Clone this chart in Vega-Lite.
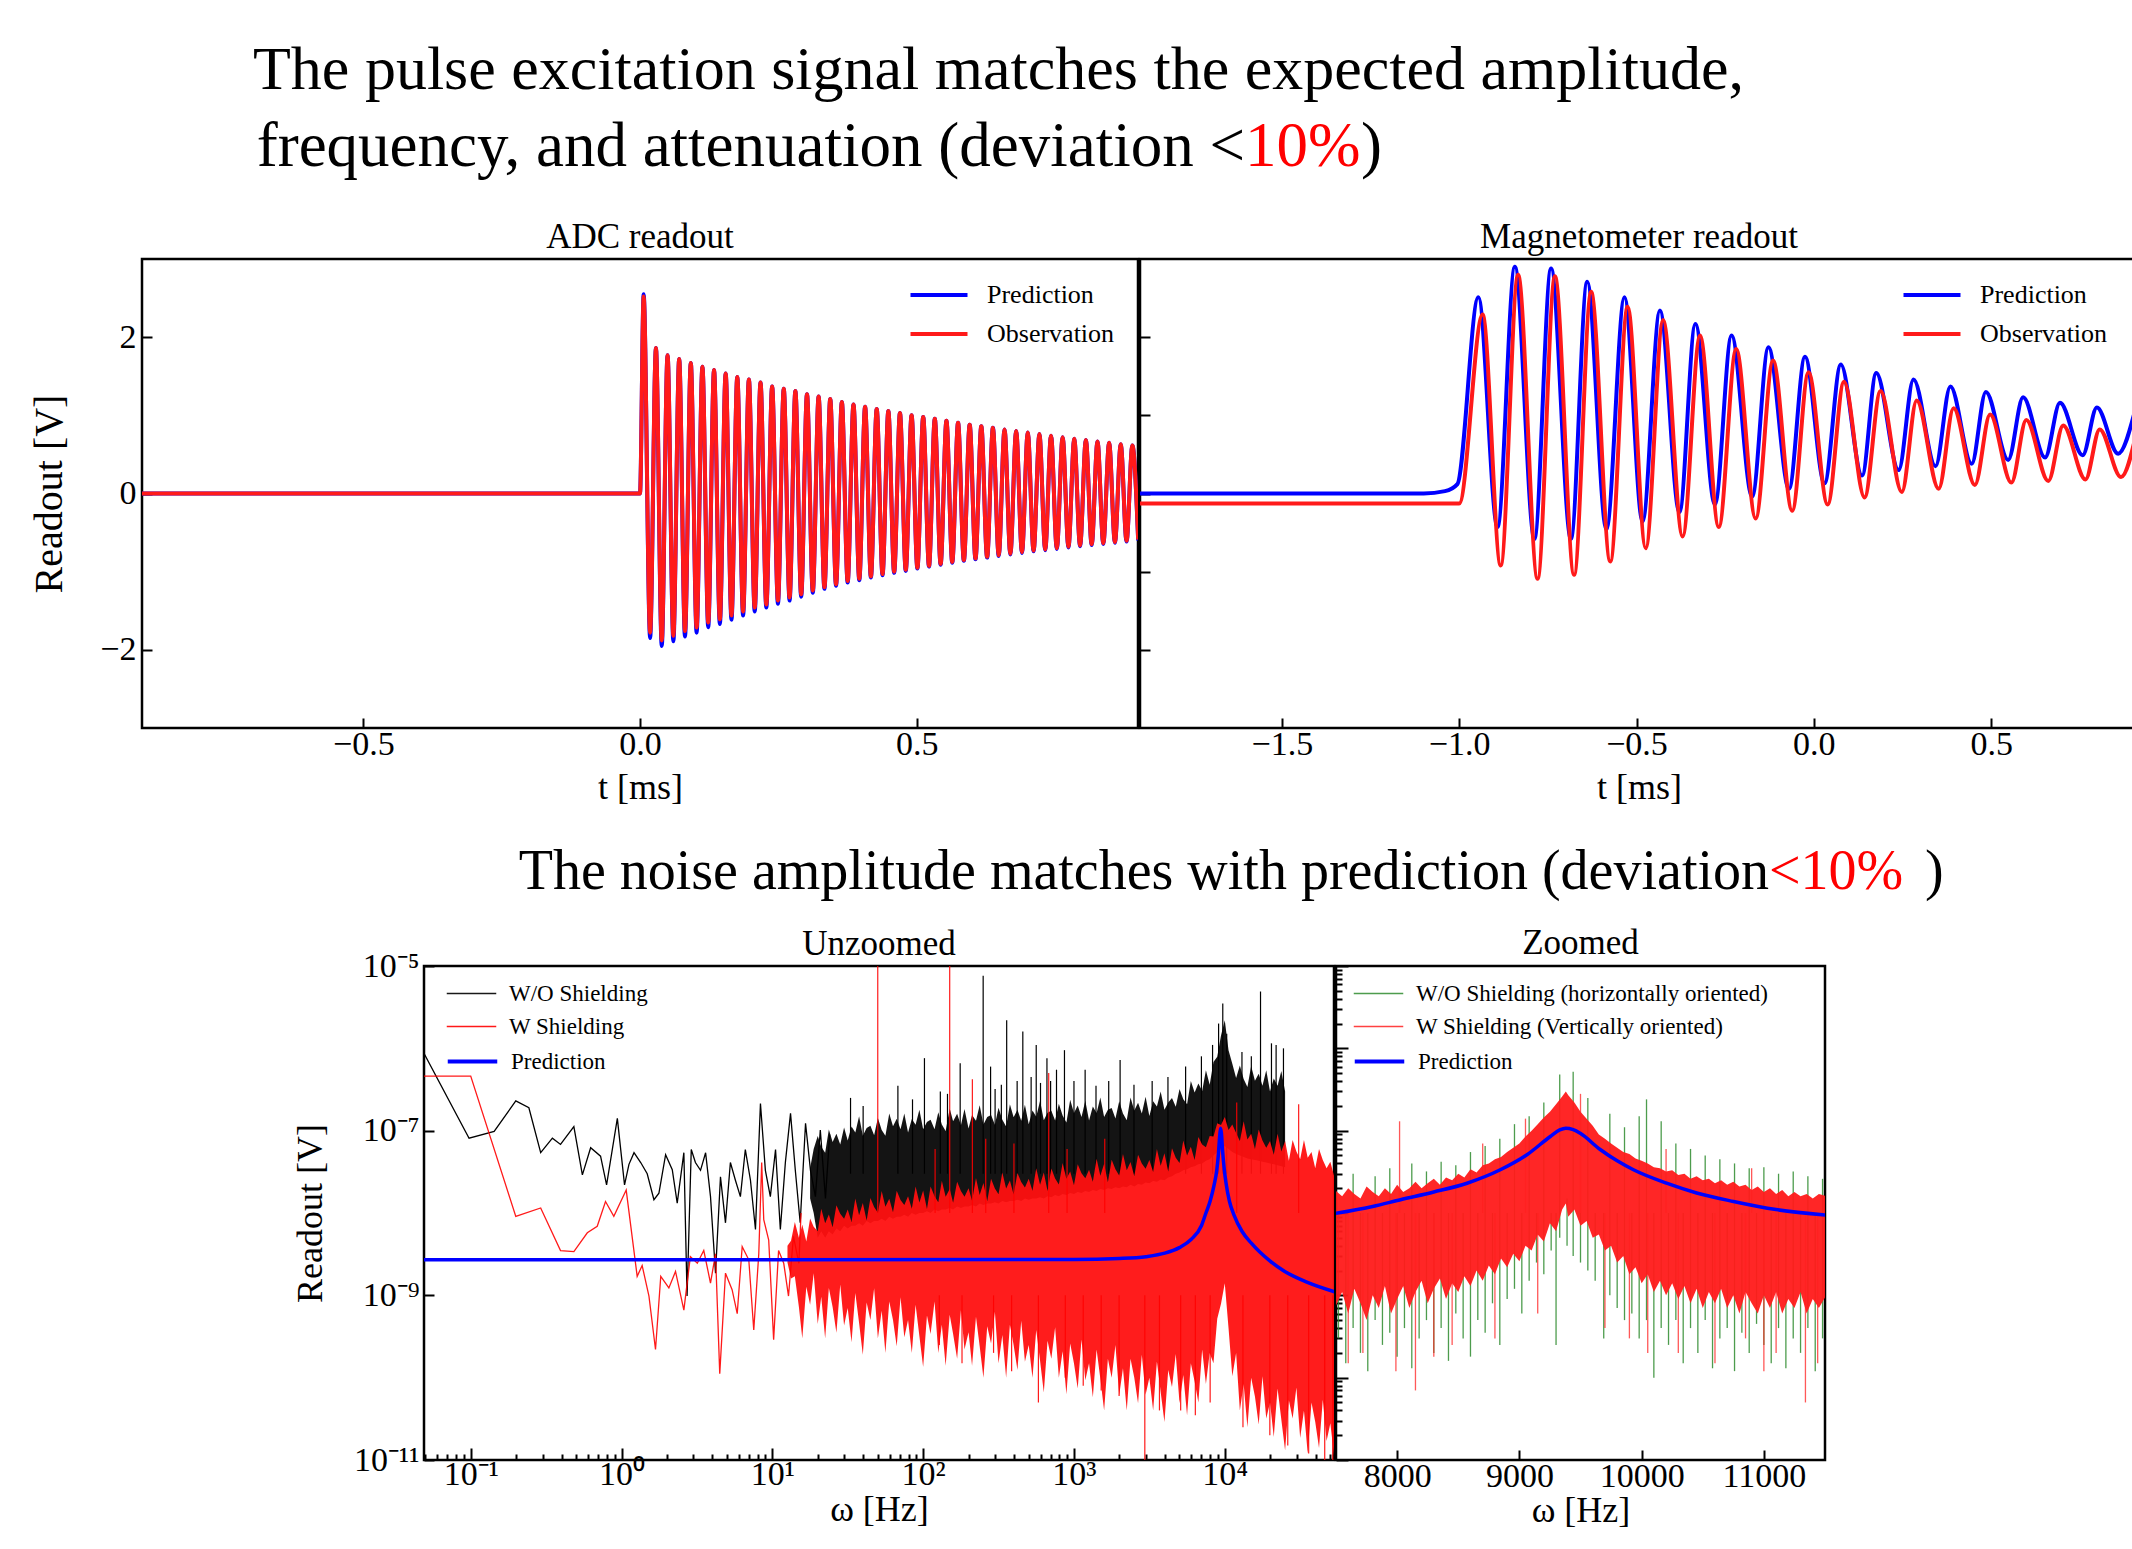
{
"$schema":"https://vega.github.io/schema/vega-lite/v6.json",
"background":"white",
"padding":{"left":28,"top":0,"right":0,"bottom":0},
"spacing":0,
"config":{
 "font":"Liberation Serif",
 "view":{"stroke":"black","strokeWidth":2.5},
 "axis":{"domain":false,"grid":false,"tickColor":"black","tickWidth":2,"tickSize":-10,"labelFont":"Liberation Serif","labelFontSize":34,"labelColor":"black","titleFont":"Liberation Serif","titleFontSize":36,"titleFontWeight":"normal","titleColor":"black","labelFlush":false,"labelOverlap":false},
 "title":{"font":"Liberation Serif","fontSize":35,"fontWeight":"normal","color":"black","offset":0},
 "legend":{"labelFont":"Liberation Serif","labelColor":"black","padding":0,"symbolType":"M-1.5,0L1.5,0","orient":"none","labelLimit":600}
},
"datasets":{
 "adc":[
  {"t":-0.9,"p":0,"o":0},{"t":0,"p":0,"o":0},{"t":0.0066,"p":2.55,"o":2.52},
  {"t":0.0183,"p":-1.85,"o":-1.78},{"t":0.0288,"p":1.86,"o":1.86},{"t":0.0393,"p":-1.95,"o":-1.88},{"t":0.0498,"p":1.77,"o":1.77},
  {"t":0.0603,"p":-1.89,"o":-1.82},{"t":0.0708,"p":1.72,"o":1.72},{"t":0.0813,"p":-1.83,"o":-1.76},{"t":0.0918,"p":1.67,"o":1.67},
  {"t":0.1023,"p":-1.78,"o":-1.715},{"t":0.1128,"p":1.62,"o":1.62},{"t":0.1233,"p":-1.71,"o":-1.65},{"t":0.1338,"p":1.58,"o":1.58},
  {"t":0.1443,"p":-1.67,"o":-1.61},{"t":0.1548,"p":1.535,"o":1.535},{"t":0.1653,"p":-1.615,"o":-1.56},{"t":0.1758,"p":1.49,"o":1.49},
  {"t":0.1863,"p":-1.56,"o":-1.51},{"t":0.1968,"p":1.46,"o":1.46},{"t":0.2073,"p":-1.51,"o":-1.46},{"t":0.2178,"p":1.42,"o":1.42},
  {"t":0.2283,"p":-1.46,"o":-1.42},{"t":0.2388,"p":1.37,"o":1.37},{"t":0.2493,"p":-1.41,"o":-1.37},{"t":0.2598,"p":1.34,"o":1.34},
  {"t":0.2703,"p":-1.37,"o":-1.33},{"t":0.2808,"p":1.31,"o":1.31},{"t":0.2913,"p":-1.32,"o":-1.29},{"t":0.3018,"p":1.27,"o":1.27},
  {"t":0.3123,"p":-1.27,"o":-1.24},{"t":0.3228,"p":1.24,"o":1.24},{"t":0.3333,"p":-1.22,"o":-1.2},{"t":0.3438,"p":1.21,"o":1.21},
  {"t":0.3543,"p":-1.18,"o":-1.16},{"t":0.3648,"p":1.17,"o":1.17},{"t":0.3753,"p":-1.14,"o":-1.12},{"t":0.3858,"p":1.14,"o":1.14},
  {"t":0.3963,"p":-1.11,"o":-1.09},{"t":0.4068,"p":1.11,"o":1.11},{"t":0.4173,"p":-1.075,"o":-1.06},{"t":0.4278,"p":1.08,"o":1.08},
  {"t":0.4383,"p":-1.045,"o":-1.03},{"t":0.4488,"p":1.055,"o":1.055},{"t":0.4593,"p":-1.015,"o":-1.0},{"t":0.4698,"p":1.03,"o":1.03},
  {"t":0.4803,"p":-0.99,"o":-0.975},{"t":0.4908,"p":1.0,"o":1.0},{"t":0.5013,"p":-0.96,"o":-0.95},{"t":0.5118,"p":0.98,"o":0.98},
  {"t":0.5223,"p":-0.935,"o":-0.925},{"t":0.5328,"p":0.955,"o":0.955},{"t":0.5433,"p":-0.91,"o":-0.9},{"t":0.5538,"p":0.93,"o":0.93},
  {"t":0.5643,"p":-0.885,"o":-0.875},{"t":0.5748,"p":0.905,"o":0.905},{"t":0.5853,"p":-0.86,"o":-0.85},{"t":0.5958,"p":0.88,"o":0.88},
  {"t":0.6063,"p":-0.84,"o":-0.83},{"t":0.6168,"p":0.86,"o":0.86},{"t":0.6273,"p":-0.82,"o":-0.81},{"t":0.6378,"p":0.84,"o":0.84},
  {"t":0.6483,"p":-0.8,"o":-0.79},{"t":0.6588,"p":0.82,"o":0.82},{"t":0.6693,"p":-0.78,"o":-0.77},{"t":0.6798,"p":0.8,"o":0.8},
  {"t":0.6903,"p":-0.76,"o":-0.75},{"t":0.7008,"p":0.78,"o":0.78},{"t":0.7113,"p":-0.74,"o":-0.73},{"t":0.7218,"p":0.76,"o":0.76},
  {"t":0.7323,"p":-0.725,"o":-0.715},{"t":0.7428,"p":0.74,"o":0.74},{"t":0.7533,"p":-0.71,"o":-0.7},{"t":0.7638,"p":0.72,"o":0.72},
  {"t":0.7743,"p":-0.69,"o":-0.68},{"t":0.7848,"p":0.7,"o":0.7},{"t":0.7953,"p":-0.675,"o":-0.665},{"t":0.8058,"p":0.685,"o":0.685},
  {"t":0.8163,"p":-0.66,"o":-0.65},{"t":0.8268,"p":0.665,"o":0.665},{"t":0.8373,"p":-0.645,"o":-0.635},{"t":0.8478,"p":0.65,"o":0.65},
  {"t":0.8583,"p":-0.63,"o":-0.62},{"t":0.8688,"p":0.63,"o":0.63},{"t":0.8793,"p":-0.615,"o":-0.605},{"t":0.8898,"p":0.615,"o":0.615},
  {"t":0.9003,"p":-0.6,"o":-0.59}
 ],
 "mag":[
  {"s":"P","t":-1.95,"v":0},{"s":"P","t":-1.1,"v":0},{"s":"P","t":-1.04,"v":0.03},{"s":"P","t":-1.005,"v":0.12},
  {"s":"P","t":-0.946,"v":2.51},{"s":"P","t":-0.892,"v":-0.43},{"s":"P","t":-0.843,"v":2.9},{"s":"P","t":-0.788,"v":-0.58},
  {"s":"P","t":-0.741,"v":2.88},{"s":"P","t":-0.685,"v":-0.58},{"s":"P","t":-0.639,"v":2.71},{"s":"P","t":-0.585,"v":-0.46},
  {"s":"P","t":-0.534,"v":2.51},{"s":"P","t":-0.483,"v":-0.36},{"s":"P","t":-0.434,"v":2.34},{"s":"P","t":-0.379,"v":-0.24},
  {"s":"P","t":-0.334,"v":2.17},{"s":"P","t":-0.279,"v":-0.14},{"s":"P","t":-0.232,"v":2.02},{"s":"P","t":-0.174,"v":-0.04},
  {"s":"P","t":-0.128,"v":1.87},{"s":"P","t":-0.07,"v":0.06},{"s":"P","t":-0.025,"v":1.75},{"s":"P","t":0.03,"v":0.13},
  {"s":"P","t":0.076,"v":1.65},{"s":"P","t":0.136,"v":0.23},{"s":"P","t":0.176,"v":1.54},{"s":"P","t":0.239,"v":0.3},
  {"s":"P","t":0.281,"v":1.46},{"s":"P","t":0.343,"v":0.35},{"s":"P","t":0.385,"v":1.37},{"s":"P","t":0.445,"v":0.38},
  {"s":"P","t":0.485,"v":1.3},{"s":"P","t":0.548,"v":0.43},{"s":"P","t":0.59,"v":1.23},{"s":"P","t":0.652,"v":0.46},
  {"s":"P","t":0.694,"v":1.16},{"s":"P","t":0.758,"v":0.49},{"s":"P","t":0.798,"v":1.1},{"s":"P","t":0.858,"v":0.51},
  {"s":"P","t":0.905,"v":1.05},
  {"s":"O","t":-1.95,"v":-0.127},{"s":"O","t":-1.0,"v":-0.127},{"s":"O","t":-0.934,"v":2.29},{"s":"O","t":-0.883,"v":-0.92},
  {"s":"O","t":-0.834,"v":2.8},{"s":"O","t":-0.779,"v":-1.09},{"s":"O","t":-0.73,"v":2.78},{"s":"O","t":-0.676,"v":-1.04},
  {"s":"O","t":-0.628,"v":2.58},{"s":"O","t":-0.574,"v":-0.87},{"s":"O","t":-0.525,"v":2.39},{"s":"O","t":-0.474,"v":-0.7},
  {"s":"O","t":-0.425,"v":2.22},{"s":"O","t":-0.37,"v":-0.55},{"s":"O","t":-0.321,"v":2.02},{"s":"O","t":-0.268,"v":-0.43},
  {"s":"O","t":-0.219,"v":1.85},{"s":"O","t":-0.164,"v":-0.32},{"s":"O","t":-0.115,"v":1.7},{"s":"O","t":-0.061,"v":-0.22},
  {"s":"O","t":-0.015,"v":1.55},{"s":"O","t":0.039,"v":-0.14},{"s":"O","t":0.085,"v":1.43},{"s":"O","t":0.143,"v":-0.05},
  {"s":"O","t":0.188,"v":1.31},{"s":"O","t":0.248,"v":0.02},{"s":"O","t":0.29,"v":1.19},{"s":"O","t":0.352,"v":0.06},
  {"s":"O","t":0.394,"v":1.09},{"s":"O","t":0.454,"v":0.11},{"s":"O","t":0.497,"v":1.01},{"s":"O","t":0.557,"v":0.14},
  {"s":"O","t":0.599,"v":0.94},{"s":"O","t":0.661,"v":0.16},{"s":"O","t":0.703,"v":0.87},{"s":"O","t":0.766,"v":0.18},
  {"s":"O","t":0.806,"v":0.82},{"s":"O","t":0.866,"v":0.21},{"s":"O","t":0.91,"v":0.78}
 ],
 "unz":[
  {"s":"K","f":0.047,"v":1.0e-6},{"s":"K","f":0.0975,"v":8.1e-8},{"s":"K","f":0.143,"v":9.8e-8},{"s":"K","f":0.199,"v":2.3e-7},
  {"s":"K","f":0.243,"v":1.9e-7},{"s":"K","f":0.291,"v":5.4e-8},{"s":"K","f":0.348,"v":8.1e-8},{"s":"K","f":0.394,"v":6.8e-8},
  {"s":"K","f":0.483,"v":1.12e-7},{"s":"K","f":0.55,"v":2.9e-8},{"s":"K","f":0.624,"v":6.2e-8},{"s":"K","f":0.726,"v":4.9e-8},
  {"s":"K","f":0.796,"v":2.2e-8},{"s":"K","f":0.938,"v":1.41e-7},{"s":"K","f":1.047,"v":2.2e-8},{"s":"K","f":1.12,"v":3.9e-8},
  {"s":"K","f":1.21,"v":5.4e-8},{"s":"K","f":1.34,"v":4.1e-8},{"s":"K","f":1.48,"v":3.0e-8},{"s":"K","f":1.64,"v":1.45e-8},
  {"s":"K","f":1.77,"v":1.74e-8},{"s":"K","f":1.96,"v":5.1e-8},{"s":"K","f":2.17,"v":3.35e-8},{"s":"K","f":2.34,"v":1.32e-8},
  {"s":"K","f":2.59,"v":5.4e-8},{"s":"K","f":2.72,"v":9.8e-10},{"s":"K","f":2.9,"v":5.9e-8},{"s":"K","f":3.09,"v":4.1e-8},
  {"s":"K","f":3.34,"v":3.3e-8},{"s":"K","f":3.61,"v":5.4e-8},{"s":"K","f":3.89,"v":1.58e-8},{"s":"K","f":4.2,"v":1.86e-9},
  {"s":"K","f":4.53,"v":2.75e-8},{"s":"K","f":4.89,"v":7.6e-9},{"s":"K","f":5.27,"v":4.1e-8},{"s":"K","f":5.69,"v":2.5e-8},
  {"s":"K","f":6.14,"v":1.58e-8},{"s":"K","f":6.62,"v":5.9e-8},{"s":"K","f":7.16,"v":2.5e-8},{"s":"K","f":7.73,"v":6.3e-9},
  {"s":"K","f":8.34,"v":2.14e-7},{"s":"K","f":8.99,"v":3.3e-8},{"s":"K","f":9.7,"v":1.58e-8},{"s":"K","f":10.5,"v":5.9e-8},
  {"s":"K","f":11.3,"v":6.3e-9},{"s":"K","f":12.2,"v":4.1e-8},{"s":"K","f":13.2,"v":1.62e-7},{"s":"K","f":14.2,"v":3.3e-8},
  {"s":"K","f":15.3,"v":7.6e-9},{"s":"K","f":16.6,"v":1.23e-7},{"s":"K","f":17.9,"v":3.3e-8},{"s":"K","f":19.3,"v":1.58e-8},
  {"s":"K","f":20.8,"v":1.02e-7},{"s":"K","f":22.5,"v":1.5e-8},{"s":"K","f":24,"v":9e-8},
  {"s":"R","f":0.047,"v":4.6e-7},{"s":"R","f":0.1,"v":4.6e-7},{"s":"R","f":0.199,"v":9.1e-9},{"s":"R","f":0.291,"v":1.15e-8},
  {"s":"R","f":0.394,"v":3.5e-9},{"s":"R","f":0.483,"v":3.4e-9},{"s":"R","f":0.593,"v":5.75e-9},{"s":"R","f":0.69,"v":6.9e-9},
  {"s":"R","f":0.783,"v":1.38e-8},{"s":"R","f":0.889,"v":9.1e-9},{"s":"R","f":1.074,"v":1.9e-8},{"s":"R","f":1.27,"v":1.7e-9},
  {"s":"R","f":1.37,"v":2.3e-9},{"s":"R","f":1.52,"v":9.8e-10},{"s":"R","f":1.68,"v":2.2e-10},{"s":"R","f":1.82,"v":1.7e-9},
  {"s":"R","f":2.06,"v":1.23e-9},{"s":"R","f":2.28,"v":1.95e-9},{"s":"R","f":2.59,"v":6.6e-10},{"s":"R","f":2.86,"v":2.95e-9},
  {"s":"R","f":3.18,"v":2.45e-9},{"s":"R","f":3.51,"v":3.5e-9},{"s":"R","f":3.89,"v":1.41e-9},{"s":"R","f":4.2,"v":3.2e-9},
  {"s":"R","f":4.48,"v":1.12e-10},{"s":"R","f":4.89,"v":1.86e-9},{"s":"R","f":5.41,"v":1.17e-9},{"s":"R","f":5.85,"v":6.0e-10},
  {"s":"R","f":6.31,"v":3.9e-9},{"s":"R","f":6.98,"v":2.7e-9},{"s":"R","f":7.53,"v":3.8e-10},{"s":"R","f":8.13,"v":3.2e-9},
  {"s":"R","f":8.5,"v":4.1e-8},{"s":"R","f":8.77,"v":8.3e-9},{"s":"R","f":9.46,"v":4.7e-9},{"s":"R","f":10.2,"v":2.9e-10},
  {"s":"R","f":11.0,"v":3.5e-9},{"s":"R","f":11.9,"v":2.45e-9},{"s":"R","f":12.8,"v":9.8e-10},{"s":"R","f":13.8,"v":5.2e-9},
  {"s":"R","f":15.0,"v":2.45e-9},{"s":"R","f":15.5,"v":1.0e-8},
  {"s":"B","f":0.047,"v":2.7e-9},{"s":"B","f":1000,"v":2.72e-9},{"s":"B","f":2000,"v":2.8e-9},{"s":"B","f":3000,"v":2.95e-9},
  {"s":"B","f":4000,"v":3.25e-9},{"s":"B","f":5000,"v":3.8e-9},{"s":"B","f":6000,"v":4.8e-9},{"s":"B","f":7000,"v":7e-9},
  {"s":"B","f":7500,"v":1.0e-8},{"s":"B","f":8000,"v":1.4e-8},{"s":"B","f":8500,"v":2.2e-8},{"s":"B","f":8850,"v":3.3e-8},
  {"s":"B","f":9060,"v":5e-8},{"s":"B","f":9250,"v":8.5e-8},{"s":"B","f":9380,"v":1.07e-7},{"s":"B","f":9500,"v":9.3e-8},
  {"s":"B","f":9660,"v":5.9e-8},{"s":"B","f":9930,"v":3.35e-8},{"s":"B","f":10200,"v":2.3e-8},{"s":"B","f":10750,"v":1.38e-8},
  {"s":"B","f":11500,"v":9.5e-9},{"s":"B","f":13000,"v":6e-9},{"s":"B","f":15000,"v":4.3e-9},{"s":"B","f":20000,"v":2.6e-9},
  {"s":"B","f":25000,"v":1.95e-9},{"s":"B","f":35000,"v":1.45e-9},{"s":"B","f":54000,"v":1.1e-9}
 ],
 "unzb":[
  {"s":"K","f":17.8,"lo":1.5e-8,"hi":3.5e-8},{"s":"K","f":18.8,"lo":1.0e-8,"hi":6e-8},{"s":"K","f":20.0,"lo":5e-9,"hi":8.6e-8},
  {"s":"K","f":21.1,"lo":6e-9,"hi":6.4e-8},{"s":"K","f":22.4,"lo":5e-9,"hi":5.4e-8},{"s":"K","f":23.7,"lo":6e-9,"hi":1.03e-7},
  {"s":"K","f":25.1,"lo":5.5e-9,"hi":7.3e-8},{"s":"K","f":26.6,"lo":6.5e-9,"hi":9.2e-8},{"s":"K","f":28.2,"lo":6e-9,"hi":6.8e-8},
  {"s":"K","f":29.9,"lo":7e-9,"hi":1.09e-7},{"s":"K","f":31.6,"lo":6.5e-9,"hi":7.6e-8},{"s":"K","f":33.5,"lo":7e-9,"hi":1.12e-7},
  {"s":"K","f":35.5,"lo":7e-9,"hi":9.5e-8},{"s":"K","f":37.6,"lo":7.5e-9,"hi":1.5e-7},{"s":"K","f":39.8,"lo":7e-9,"hi":8.7e-8},
  {"s":"K","f":42.2,"lo":8e-9,"hi":1.08e-7},{"s":"K","f":44.7,"lo":7.5e-9,"hi":1.15e-7},{"s":"K","f":47.3,"lo":8e-9,"hi":8.8e-8},
  {"s":"K","f":50.1,"lo":8e-9,"hi":1.43e-7},{"s":"K","f":53.1,"lo":8.5e-9,"hi":1.02e-7},{"s":"K","f":56.2,"lo":8e-9,"hi":8.7e-8},
  {"s":"K","f":59.6,"lo":9e-9,"hi":1.62e-7},{"s":"K","f":63.1,"lo":8.5e-9,"hi":1.13e-7},{"s":"K","f":66.8,"lo":9e-9,"hi":1.4e-7},
  {"s":"K","f":70.8,"lo":9e-9,"hi":1.04e-7},{"s":"K","f":75.0,"lo":9.5e-9,"hi":1.62e-7},{"s":"K","f":79.4,"lo":9e-9,"hi":9.5e-8},
  {"s":"K","f":84.1,"lo":1.0e-8,"hi":1.39e-7},{"s":"K","f":89.1,"lo":9.5e-9,"hi":1.18e-7},{"s":"K","f":94.4,"lo":1.0e-8,"hi":1.79e-7},
  {"s":"K","f":100,"lo":1.0e-8,"hi":1.04e-7},{"s":"K","f":106,"lo":1.05e-8,"hi":1.27e-7},{"s":"K","f":112,"lo":1.0e-8,"hi":1.36e-7},
  {"s":"K","f":119,"lo":1.1e-8,"hi":1.04e-7},{"s":"K","f":126,"lo":1.05e-8,"hi":1.67e-7},{"s":"K","f":133,"lo":1.1e-8,"hi":1.19e-7},
  {"s":"K","f":141,"lo":1.1e-8,"hi":9.9e-8},{"s":"K","f":150,"lo":1.15e-8,"hi":1.86e-7},{"s":"K","f":158,"lo":1.1e-8,"hi":1.3e-7},
  {"s":"K","f":168,"lo":1.2e-8,"hi":1.6e-7},{"s":"K","f":178,"lo":1.15e-8,"hi":1.16e-7},{"s":"K","f":188,"lo":1.2e-8,"hi":1.83e-7},
  {"s":"K","f":200,"lo":1.2e-8,"hi":1.06e-7},{"s":"K","f":211,"lo":1.25e-8,"hi":1.55e-7},{"s":"K","f":224,"lo":1.2e-8,"hi":1.32e-7},
  {"s":"K","f":237,"lo":1.3e-8,"hi":2.04e-7},{"s":"K","f":251,"lo":1.25e-8,"hi":1.19e-7},{"s":"K","f":266,"lo":1.3e-8,"hi":1.47e-7},
  {"s":"K","f":282,"lo":1.3e-8,"hi":1.55e-7},{"s":"K","f":299,"lo":1.35e-8,"hi":1.18e-7},{"s":"K","f":316,"lo":1.3e-8,"hi":1.9e-7},
  {"s":"K","f":335,"lo":1.4e-8,"hi":1.36e-7},{"s":"K","f":355,"lo":1.35e-8,"hi":1.12e-7},{"s":"K","f":376,"lo":1.4e-8,"hi":2.1e-7},
  {"s":"K","f":398,"lo":1.4e-8,"hi":1.46e-7},{"s":"K","f":422,"lo":1.45e-8,"hi":1.79e-7},{"s":"K","f":447,"lo":1.4e-8,"hi":1.32e-7},
  {"s":"K","f":473,"lo":1.5e-8,"hi":2.07e-7},{"s":"K","f":501,"lo":1.45e-8,"hi":1.2e-7},{"s":"K","f":531,"lo":1.5e-8,"hi":1.76e-7},
  {"s":"K","f":562,"lo":1.5e-8,"hi":1.48e-7},{"s":"K","f":596,"lo":1.55e-8,"hi":2.31e-7},{"s":"K","f":631,"lo":1.5e-8,"hi":1.34e-7},
  {"s":"K","f":668,"lo":1.6e-8,"hi":1.65e-7},{"s":"K","f":708,"lo":1.55e-8,"hi":1.75e-7},{"s":"K","f":750,"lo":1.65e-8,"hi":1.33e-7},
  {"s":"K","f":794,"lo":1.6e-8,"hi":2.13e-7},{"s":"K","f":841,"lo":1.7e-8,"hi":1.53e-7},{"s":"K","f":891,"lo":1.65e-8,"hi":1.26e-7},
  {"s":"K","f":944,"lo":1.75e-8,"hi":2.37e-7},{"s":"K","f":1000,"lo":1.7e-8,"hi":1.64e-7},{"s":"K","f":1059,"lo":1.8e-8,"hi":2.02e-7},
  {"s":"K","f":1122,"lo":1.75e-8,"hi":1.47e-7},{"s":"K","f":1189,"lo":1.85e-8,"hi":2.31e-7},{"s":"K","f":1259,"lo":1.8e-8,"hi":1.33e-7},
  {"s":"K","f":1334,"lo":1.9e-8,"hi":1.96e-7},{"s":"K","f":1413,"lo":1.85e-8,"hi":1.64e-7},{"s":"K","f":1496,"lo":1.95e-8,"hi":2.53e-7},
  {"s":"K","f":1585,"lo":1.9e-8,"hi":1.47e-7},{"s":"K","f":1679,"lo":2.0e-8,"hi":1.79e-7},{"s":"K","f":1778,"lo":1.95e-8,"hi":1.89e-7},
  {"s":"K","f":1884,"lo":2.05e-8,"hi":1.41e-7},{"s":"K","f":1995,"lo":2.0e-8,"hi":2.27e-7},{"s":"K","f":2113,"lo":2.1e-8,"hi":1.62e-7},
  {"s":"K","f":2239,"lo":2.05e-8,"hi":1.34e-7},{"s":"K","f":2371,"lo":2.2e-8,"hi":2.53e-7},{"s":"K","f":2512,"lo":2.1e-8,"hi":1.76e-7},
  {"s":"K","f":2661,"lo":2.25e-8,"hi":2.18e-7},{"s":"K","f":2818,"lo":2.2e-8,"hi":1.62e-7},{"s":"K","f":2985,"lo":2.35e-8,"hi":2.58e-7},
  {"s":"K","f":3162,"lo":2.3e-8,"hi":1.51e-7},{"s":"K","f":3350,"lo":2.45e-8,"hi":2.28e-7},{"s":"K","f":3548,"lo":2.4e-8,"hi":1.97e-7},
  {"s":"K","f":3758,"lo":2.55e-8,"hi":3.0e-7},{"s":"K","f":3981,"lo":2.5e-8,"hi":1.8e-7},{"s":"K","f":4217,"lo":2.7e-8,"hi":2.2e-7},
  {"s":"K","f":4467,"lo":2.8e-8,"hi":2.5e-7},{"s":"K","f":4732,"lo":3.0e-8,"hi":1.95e-7},{"s":"K","f":5012,"lo":3.1e-8,"hi":3.2e-7},
  {"s":"K","f":5309,"lo":3.3e-8,"hi":2.4e-7},{"s":"K","f":5623,"lo":3.4e-8,"hi":2.1e-7},{"s":"K","f":5957,"lo":3.6e-8,"hi":4.0e-7},
  {"s":"K","f":6310,"lo":3.7e-8,"hi":2.9e-7},{"s":"K","f":6683,"lo":3.9e-8,"hi":3.74e-7},{"s":"K","f":7079,"lo":4.0e-8,"hi":3.04e-7},
  {"s":"K","f":7499,"lo":4.3e-8,"hi":5.4e-7},{"s":"K","f":7943,"lo":4.5e-8,"hi":3.6e-7},{"s":"K","f":8414,"lo":5.0e-8,"hi":6.8e-7},
  {"s":"K","f":8913,"lo":5.5e-8,"hi":7.9e-7},{"s":"K","f":9441,"lo":6.0e-8,"hi":1.43e-6},{"s":"K","f":10000,"lo":6.5e-8,"hi":2.2e-6},
  {"s":"K","f":10590,"lo":6e-8,"hi":9.5e-7},{"s":"K","f":11220,"lo":5.5e-8,"hi":6.5e-7},{"s":"K","f":11890,"lo":5.2e-8,"hi":4.35e-7},
  {"s":"K","f":12590,"lo":5.0e-8,"hi":6.2e-7},{"s":"K","f":13340,"lo":4.8e-8,"hi":4.25e-7},{"s":"K","f":14130,"lo":4.6e-8,"hi":3.4e-7},
  {"s":"K","f":14960,"lo":4.5e-8,"hi":6.1e-7},{"s":"K","f":15850,"lo":4.4e-8,"hi":4.05e-7},{"s":"K","f":16790,"lo":4.3e-8,"hi":4.9e-7},
  {"s":"K","f":17780,"lo":4.2e-8,"hi":3.5e-7},{"s":"K","f":18840,"lo":4.1e-8,"hi":5.4e-7},{"s":"K","f":19950,"lo":4.0e-8,"hi":3.0e-7},
  {"s":"K","f":21130,"lo":3.9e-8,"hi":4.3e-7},{"s":"K","f":22390,"lo":3.8e-8,"hi":3.5e-7},{"s":"K","f":23710,"lo":3.7e-8,"hi":5.3e-7},
  {"s":"K","f":25120,"lo":3.6e-8,"hi":3.0e-7},
  {"s":"R","f":12.6,"lo":2.5e-9,"hi":4e-9},{"s":"R","f":13.3,"lo":1.6e-9,"hi":4.6e-9},{"s":"R","f":14.1,"lo":1.7e-9,"hi":7.8e-9},
  {"s":"R","f":15.0,"lo":7.2e-10,"hi":5.0e-9},{"s":"R","f":15.8,"lo":3e-10,"hi":7.2e-9},{"s":"R","f":16.8,"lo":1.27e-9,"hi":4.5e-9},
  {"s":"R","f":17.8,"lo":7.7e-10,"hi":8.6e-9},{"s":"R","f":18.8,"lo":1.86e-9,"hi":6.8e-9},{"s":"R","f":20.0,"lo":4.5e-10,"hi":6e-9},
  {"s":"R","f":21.1,"lo":9.6e-10,"hi":1.13e-8},{"s":"R","f":22.4,"lo":3e-10,"hi":7.5e-9},{"s":"R","f":23.7,"lo":1.23e-9,"hi":9.6e-9},
  {"s":"R","f":25.1,"lo":7.2e-10,"hi":6.7e-9},{"s":"R","f":26.6,"lo":3.5e-10,"hi":1.24e-8},{"s":"R","f":28.2,"lo":1.35e-9,"hi":9.8e-9},
  {"s":"R","f":29.9,"lo":4.3e-10,"hi":8.5e-9},{"s":"R","f":31.6,"lo":7e-10,"hi":1.1e-8},{"s":"R","f":33.5,"lo":2.7e-10,"hi":7.8e-9},
  {"s":"R","f":35.5,"lo":1.07e-9,"hi":1.5e-8},{"s":"R","f":37.6,"lo":4.6e-10,"hi":9.4e-9},{"s":"R","f":39.8,"lo":1.9e-10,"hi":1.32e-8},
  {"s":"R","f":42.2,"lo":8.2e-10,"hi":8.1e-9},{"s":"R","f":44.7,"lo":5e-10,"hi":1.52e-8},{"s":"R","f":47.3,"lo":1.22e-9,"hi":1.18e-8},
  {"s":"R","f":50.1,"lo":3e-10,"hi":1.01e-8},{"s":"R","f":53.1,"lo":6.5e-10,"hi":1.85e-8},{"s":"R","f":56.2,"lo":2e-10,"hi":1.19e-8},
  {"s":"R","f":59.6,"lo":8.4e-10,"hi":1.49e-8},{"s":"R","f":63.1,"lo":5e-10,"hi":1.02e-8},{"s":"R","f":66.8,"lo":2.4e-10,"hi":1.86e-8},
  {"s":"R","f":70.8,"lo":9.5e-10,"hi":1.44e-8},{"s":"R","f":75.0,"lo":3.1e-10,"hi":1.25e-8},{"s":"R","f":79.4,"lo":5e-10,"hi":1.6e-8},
  {"s":"R","f":84.1,"lo":2e-10,"hi":1.13e-8},{"s":"R","f":89.1,"lo":7.7e-10,"hi":2.1e-8},{"s":"R","f":94.4,"lo":3.2e-10,"hi":1.34e-8},
  {"s":"R","f":100,"lo":1.35e-10,"hi":1.87e-8},{"s":"R","f":106,"lo":5.7e-10,"hi":1.12e-8},{"s":"R","f":112,"lo":3.4e-10,"hi":2.1e-8},
  {"s":"R","f":119,"lo":8.4e-10,"hi":1.6e-8},{"s":"R","f":126,"lo":2e-10,"hi":1.35e-8},{"s":"R","f":133,"lo":4.4e-10,"hi":2.46e-8},
  {"s":"R","f":141,"lo":1.4e-10,"hi":1.57e-8},{"s":"R","f":150,"lo":5.8e-10,"hi":1.96e-8},{"s":"R","f":158,"lo":3.4e-10,"hi":1.33e-8},
  {"s":"R","f":168,"lo":1.7e-10,"hi":2.4e-8},{"s":"R","f":178,"lo":6.6e-10,"hi":1.85e-8},{"s":"R","f":188,"lo":2.2e-10,"hi":1.58e-8},
  {"s":"R","f":200,"lo":3.55e-10,"hi":2.0e-8},{"s":"R","f":211,"lo":1.4e-10,"hi":1.41e-8},{"s":"R","f":224,"lo":5.5e-10,"hi":2.67e-8},
  {"s":"R","f":237,"lo":2.4e-10,"hi":1.66e-8},{"s":"R","f":251,"lo":1e-10,"hi":2.31e-8},{"s":"R","f":266,"lo":4.2e-10,"hi":1.39e-8},
  {"s":"R","f":282,"lo":2.6e-10,"hi":2.6e-8},{"s":"R","f":299,"lo":6.3e-10,"hi":1.99e-8},{"s":"R","f":316,"lo":1.5e-10,"hi":1.69e-8},
  {"s":"R","f":335,"lo":3.3e-10,"hi":3.1e-8},{"s":"R","f":355,"lo":1.0e-10,"hi":1.98e-8},{"s":"R","f":376,"lo":4.4e-10,"hi":2.49e-8},
  {"s":"R","f":398,"lo":2.5e-10,"hi":1.68e-8},{"s":"R","f":422,"lo":1.24e-10,"hi":3.06e-8},{"s":"R","f":447,"lo":4.9e-10,"hi":2.38e-8},
  {"s":"R","f":473,"lo":1.56e-10,"hi":2.04e-8},{"s":"R","f":501,"lo":2.5e-10,"hi":2.6e-8},{"s":"R","f":531,"lo":1e-10,"hi":1.86e-8},
  {"s":"R","f":562,"lo":3.8e-10,"hi":3.5e-8},{"s":"R","f":596,"lo":1.6e-10,"hi":2.2e-8},{"s":"R","f":631,"lo":6.6e-11,"hi":3.1e-8},
  {"s":"R","f":668,"lo":2.8e-10,"hi":1.85e-8},{"s":"R","f":708,"lo":1.7e-10,"hi":3.46e-8},{"s":"R","f":750,"lo":4.1e-10,"hi":2.63e-8},
  {"s":"R","f":794,"lo":1e-10,"hi":2.22e-8},{"s":"R","f":841,"lo":2.1e-10,"hi":4.05e-8},{"s":"R","f":891,"lo":6.3e-11,"hi":2.6e-8},
  {"s":"R","f":944,"lo":2.6e-10,"hi":3.2e-8},{"s":"R","f":1000,"lo":1.5e-10,"hi":2.17e-8},{"s":"R","f":1059,"lo":7.4e-11,"hi":3.9e-8},
  {"s":"R","f":1122,"lo":2.9e-10,"hi":3.04e-8},{"s":"R","f":1189,"lo":9.3e-11,"hi":2.64e-8},{"s":"R","f":1259,"lo":1.5e-10,"hi":3.35e-8},
  {"s":"R","f":1334,"lo":5.8e-11,"hi":2.4e-8},{"s":"R","f":1413,"lo":2.2e-10,"hi":4.55e-8},{"s":"R","f":1496,"lo":9.7e-11,"hi":2.84e-8},
  {"s":"R","f":1585,"lo":4e-11,"hi":3.96e-8},{"s":"R","f":1679,"lo":1.7e-10,"hi":2.37e-8},{"s":"R","f":1778,"lo":1.0e-10,"hi":4.44e-8},
  {"s":"R","f":1884,"lo":2.5e-10,"hi":3.4e-8},{"s":"R","f":1995,"lo":6.1e-11,"hi":2.85e-8},{"s":"R","f":2113,"lo":1.3e-10,"hi":5.2e-8},
  {"s":"R","f":2239,"lo":4e-11,"hi":3.3e-8},{"s":"R","f":2371,"lo":1.7e-10,"hi":4.15e-8},{"s":"R","f":2512,"lo":1.0e-10,"hi":2.8e-8},
  {"s":"R","f":2661,"lo":4.9e-11,"hi":5.1e-8},{"s":"R","f":2818,"lo":1.9e-10,"hi":4.0e-8},{"s":"R","f":2985,"lo":6.2e-11,"hi":3.44e-8},
  {"s":"R","f":3162,"lo":1.0e-10,"hi":4.4e-8},{"s":"R","f":3350,"lo":4e-11,"hi":3.15e-8},{"s":"R","f":3548,"lo":1.57e-10,"hi":6.0e-8},
  {"s":"R","f":3758,"lo":6.7e-11,"hi":3.76e-8},{"s":"R","f":3981,"lo":2.9e-11,"hi":5.3e-8},{"s":"R","f":4217,"lo":1.24e-10,"hi":3.2e-8},
  {"s":"R","f":4467,"lo":7.7e-11,"hi":6.1e-8},{"s":"R","f":4732,"lo":1.94e-10,"hi":4.7e-8},{"s":"R","f":5012,"lo":4.9e-11,"hi":4.05e-8},
  {"s":"R","f":5309,"lo":1.08e-10,"hi":7.6e-8},{"s":"R","f":5623,"lo":3.5e-11,"hi":5.0e-8},{"s":"R","f":5957,"lo":1.5e-10,"hi":6.4e-8},
  {"s":"R","f":6310,"lo":9e-11,"hi":4.4e-8},{"s":"R","f":6683,"lo":5e-11,"hi":8.4e-8},{"s":"R","f":7079,"lo":2.2e-10,"hi":6.8e-8},
  {"s":"R","f":7499,"lo":8.4e-11,"hi":6.3e-8},{"s":"R","f":7943,"lo":2e-10,"hi":8.6e-8},{"s":"R","f":8414,"lo":1.5e-10,"hi":8.5e-8},
  {"s":"R","f":8913,"lo":5.2e-10,"hi":1.23e-7},{"s":"R","f":9441,"lo":7.9e-10,"hi":1.17e-7},{"s":"R","f":10000,"lo":1.4e-9,"hi":1.47e-7},
  {"s":"R","f":10590,"lo":4e-10,"hi":1.02e-7},{"s":"R","f":11220,"lo":1.04e-10,"hi":1.19e-7},{"s":"R","f":11890,"lo":2e-10,"hi":9.4e-8},
  {"s":"R","f":12590,"lo":4e-11,"hi":7.5e-8},{"s":"R","f":13340,"lo":8.4e-11,"hi":1.3e-7},{"s":"R","f":14130,"lo":2.5e-11,"hi":7.8e-8},
  {"s":"R","f":14960,"lo":1.0e-10,"hi":9.2e-8},{"s":"R","f":15850,"lo":5.9e-11,"hi":6e-8},{"s":"R","f":16790,"lo":2.7e-11,"hi":1.03e-7},
  {"s":"R","f":17780,"lo":1.04e-10,"hi":7.6e-8},{"s":"R","f":18840,"lo":3.2e-11,"hi":6.2e-8},{"s":"R","f":19950,"lo":5e-11,"hi":7.5e-8},
  {"s":"R","f":21130,"lo":1.9e-11,"hi":5.1e-8},{"s":"R","f":22390,"lo":7.4e-11,"hi":9.2e-8},{"s":"R","f":23710,"lo":3.1e-11,"hi":5.6e-8},
  {"s":"R","f":25120,"lo":1.3e-11,"hi":7.5e-8},{"s":"R","f":26610,"lo":5.3e-11,"hi":4.3e-8},{"s":"R","f":28180,"lo":3.2e-11,"hi":7.7e-8},
  {"s":"R","f":29850,"lo":7.6e-11,"hi":5.6e-8},{"s":"R","f":31620,"lo":1.85e-11,"hi":4.5e-8},{"s":"R","f":33500,"lo":4e-11,"hi":7.7e-8},
  {"s":"R","f":35480,"lo":1.2e-11,"hi":4.7e-8},{"s":"R","f":37580,"lo":5e-11,"hi":5.5e-8},{"s":"R","f":39810,"lo":2.9e-11,"hi":3.5e-8},
  {"s":"R","f":42170,"lo":1.4e-11,"hi":6e-8},{"s":"R","f":44670,"lo":5.4e-11,"hi":4.4e-8},{"s":"R","f":47320,"lo":1.7e-11,"hi":3.5e-8},
  {"s":"R","f":50120,"lo":2.8e-11,"hi":4.2e-8},{"s":"R","f":53090,"lo":1.1e-11,"hi":2.8e-8},{"s":"R","f":56230,"lo":4.2e-11,"hi":5e-8}
 ],
 "ur":[
  {"s":"K","f":33,"lo":3e-8,"hi":2.5e-7},{"s":"K","f":40,"lo":3e-8,"hi":2.0e-7},{"s":"K","f":68,"lo":3e-8,"hi":3.5e-7},
  {"s":"K","f":85,"lo":3e-8,"hi":2.4e-7},{"s":"K","f":102,"lo":3e-8,"hi":7.6e-7},{"s":"K","f":130,"lo":3e-8,"hi":3e-7},
  {"s":"K","f":145,"lo":3e-8,"hi":2.8e-7},{"s":"K","f":176,"lo":3e-8,"hi":6.6e-7},{"s":"K","f":250,"lo":3e-8,"hi":7.6e-6},
  {"s":"K","f":280,"lo":3e-8,"hi":6.0e-7},{"s":"K","f":300,"lo":3e-8,"hi":3.2e-7},{"s":"K","f":330,"lo":3e-8,"hi":3.6e-7},
  {"s":"K","f":358,"lo":3e-8,"hi":2.2e-6},{"s":"K","f":420,"lo":3e-8,"hi":4e-7},{"s":"K","f":458,"lo":3e-8,"hi":1.6e-6},
  {"s":"K","f":520,"lo":3e-8,"hi":4.5e-7},{"s":"K","f":562,"lo":3e-8,"hi":1.1e-6},{"s":"K","f":600,"lo":3e-8,"hi":3.8e-7},
  {"s":"K","f":662,"lo":3e-8,"hi":7.6e-7},{"s":"K","f":700,"lo":3e-8,"hi":4e-7},{"s":"K","f":766,"lo":3e-8,"hi":5.5e-7},
  {"s":"K","f":865,"lo":3e-8,"hi":9.5e-7},{"s":"K","f":1000,"lo":3e-8,"hi":4e-7},{"s":"K","f":1186,"lo":3e-8,"hi":5.5e-7},
  {"s":"K","f":1400,"lo":3e-8,"hi":3.5e-7},{"s":"K","f":1700,"lo":3e-8,"hi":4e-7},{"s":"K","f":2023,"lo":3e-8,"hi":7.2e-7},
  {"s":"K","f":2500,"lo":3e-8,"hi":3.6e-7},{"s":"K","f":3300,"lo":3e-8,"hi":4e-7},{"s":"K","f":4200,"lo":3e-8,"hi":4.5e-7},
  {"s":"K","f":5500,"lo":3e-8,"hi":6e-7},{"s":"K","f":7000,"lo":3e-8,"hi":8e-7},{"s":"K","f":8300,"lo":3e-8,"hi":1.1e-6},
  {"s":"K","f":9100,"lo":3e-8,"hi":2e-6},{"s":"K","f":9700,"lo":3e-8,"hi":3.5e-6},{"s":"K","f":10300,"lo":3e-8,"hi":1.5e-6},
  {"s":"K","f":13000,"lo":3e-8,"hi":9e-7},{"s":"K","f":15000,"lo":3e-8,"hi":8e-7},{"s":"K","f":17260,"lo":3e-8,"hi":4.9e-6},
  {"s":"K","f":20400,"lo":3e-8,"hi":1.15e-6},{"s":"K","f":21900,"lo":3e-8,"hi":1.1e-6},{"s":"K","f":24500,"lo":3e-8,"hi":1.0e-6},
  {"s":"R","f":50,"lo":1e-8,"hi":1.2e-5},{"s":"R","f":150,"lo":1e-8,"hi":1.2e-5},{"s":"R","f":212,"lo":1e-8,"hi":4.2e-7},
  {"s":"R","f":120,"lo":1e-8,"hi":6e-8},{"s":"R","f":260,"lo":1e-8,"hi":8e-8},{"s":"R","f":400,"lo":1e-8,"hi":7e-8},
  {"s":"R","f":680,"lo":1e-8,"hi":5e-7},{"s":"R","f":900,"lo":1e-8,"hi":6e-8},{"s":"R","f":1600,"lo":1e-8,"hi":8e-8},
  {"s":"R","f":12000,"lo":1e-8,"hi":2.2e-7},{"s":"R","f":30900,"lo":1e-8,"hi":2.1e-7},
  {"s":"R","f":128,"lo":2.5e-10,"hi":1e-9},{"s":"R","f":181,"lo":1.5e-10,"hi":1e-9},{"s":"R","f":293,"lo":2.0e-10,"hi":1e-9},
  {"s":"R","f":386,"lo":1.2e-10,"hi":1e-9},{"s":"R","f":581,"lo":5e-11,"hi":1e-9},{"s":"R","f":876,"lo":1.0e-10,"hi":1e-9},
  {"s":"R","f":1152,"lo":8e-11,"hi":1e-9},{"s":"R","f":1515,"lo":7e-11,"hi":1e-9},{"s":"R","f":1992,"lo":6e-11,"hi":1e-9},
  {"s":"R","f":2950,"lo":5e-12,"hi":1e-9},{"s":"R","f":3689,"lo":4e-11,"hi":1e-9},{"s":"R","f":5100,"lo":4e-11,"hi":1e-9},
  {"s":"R","f":6380,"lo":3.5e-11,"hi":1e-9},{"s":"R","f":8000,"lo":5e-11,"hi":1e-9},{"s":"R","f":13200,"lo":2.5e-11,"hi":1e-9},
  {"s":"R","f":19900,"lo":2e-11,"hi":1e-9},{"s":"R","f":26160,"lo":1.5e-11,"hi":1e-9},{"s":"R","f":36000,"lo":1.2e-11,"hi":1e-9},
  {"s":"R","f":46000,"lo":8e-12,"hi":1e-9},{"s":"R","f":52000,"lo":1e-11,"hi":1e-9}
 ],
 "zm":[
  {"s":"B","f":7480,"v":9.8e-9},{"s":"B","f":7800,"v":1.2e-8},{"s":"B","f":8028,"v":1.45e-8},{"s":"B","f":8300,"v":1.8e-8},
  {"s":"B","f":8572,"v":2.3e-8},{"s":"B","f":8844,"v":3.35e-8},{"s":"B","f":9062,"v":5.1e-8},{"s":"B","f":9253,"v":8.5e-8},
  {"s":"B","f":9330,"v":1.02e-7},{"s":"B","f":9380,"v":1.07e-7},{"s":"B","f":9440,"v":1.03e-7},{"s":"B","f":9498,"v":9.3e-8},
  {"s":"B","f":9661,"v":5.9e-8},{"s":"B","f":9800,"v":4.3e-8},{"s":"B","f":9933,"v":3.35e-8},{"s":"B","f":10204,"v":2.3e-8},
  {"s":"B","f":10450,"v":1.75e-8},{"s":"B","f":10751,"v":1.38e-8},{"s":"B","f":11100,"v":1.1e-8},{"s":"B","f":11520,"v":9.4e-9}
 ],
 "zmb":[
  {"f":7490,"lo":7e-10,"hi":1.9e-8},{"f":7550,"lo":1.1e-9,"hi":1.6e-8},{"f":7600,"lo":6e-10,"hi":2.0e-8},{"f":7650,"lo":1.2e-9,"hi":1.7e-8},
  {"f":7700,"lo":8e-10,"hi":1.5e-8},{"f":7750,"lo":5e-10,"hi":2.1e-8},{"f":7800,"lo":1.0e-9,"hi":1.8e-8},{"f":7850,"lo":7e-10,"hi":1.6e-8},
  {"f":7900,"lo":1.3e-9,"hi":2.0e-8},{"f":7950,"lo":6e-10,"hi":1.7e-8},{"f":8000,"lo":9e-10,"hi":2.2e-8},{"f":8050,"lo":1.3e-9,"hi":1.8e-8},
  {"f":8100,"lo":7e-10,"hi":2.0e-8},{"f":8150,"lo":1.1e-9,"hi":2.4e-8},{"f":8200,"lo":1.5e-9,"hi":2.0e-8},{"f":8250,"lo":8e-10,"hi":2.3e-8},
  {"f":8300,"lo":1.2e-9,"hi":2.6e-8},{"f":8350,"lo":1.6e-9,"hi":2.2e-8},{"f":8400,"lo":9e-10,"hi":2.7e-8},{"f":8450,"lo":1.4e-9,"hi":2.5e-8},
  {"f":8500,"lo":1.1e-9,"hi":3.0e-8},{"f":8550,"lo":1.7e-9,"hi":2.7e-8},{"f":8600,"lo":1.3e-9,"hi":3.4e-8},{"f":8650,"lo":2.0e-9,"hi":3.1e-8},
  {"f":8700,"lo":1.5e-9,"hi":3.8e-8},{"f":8750,"lo":2.3e-9,"hi":4.0e-8},{"f":8800,"lo":1.8e-9,"hi":4.5e-8},{"f":8850,"lo":2.8e-9,"hi":4.8e-8},
  {"f":8900,"lo":2.2e-9,"hi":5.5e-8},{"f":8950,"lo":3.2e-9,"hi":6.2e-8},{"f":9000,"lo":2.6e-9,"hi":7.0e-8},{"f":9050,"lo":4.0e-9,"hi":8.5e-8},
  {"f":9100,"lo":3.5e-9,"hi":1.0e-7},{"f":9150,"lo":5.5e-9,"hi":1.2e-7},{"f":9200,"lo":4.5e-9,"hi":1.45e-7},{"f":9250,"lo":7.5e-9,"hi":1.7e-7},
  {"f":9300,"lo":6e-9,"hi":2.1e-7},{"f":9350,"lo":1.1e-8,"hi":2.6e-7},{"f":9380,"lo":1.3e-8,"hi":3.0e-7},{"f":9400,"lo":9e-9,"hi":2.7e-7},
  {"f":9450,"lo":1.1e-8,"hi":2.2e-7},{"f":9500,"lo":7e-9,"hi":1.7e-7},{"f":9550,"lo":8e-9,"hi":1.4e-7},{"f":9600,"lo":5e-9,"hi":1.15e-7},
  {"f":9650,"lo":5.5e-9,"hi":9e-8},{"f":9700,"lo":3.5e-9,"hi":8e-8},{"f":9750,"lo":4e-9,"hi":7e-8},{"f":9800,"lo":2.5e-9,"hi":6.2e-8},
  {"f":9850,"lo":3e-9,"hi":5.5e-8},{"f":9900,"lo":1.8e-9,"hi":5.2e-8},{"f":9950,"lo":2.2e-9,"hi":4.6e-8},{"f":10000,"lo":1.4e-9,"hi":4.3e-8},
  {"f":10050,"lo":1.8e-9,"hi":4.0e-8},{"f":10100,"lo":1.1e-9,"hi":3.6e-8},{"f":10150,"lo":1.5e-9,"hi":3.5e-8},{"f":10200,"lo":1.0e-9,"hi":3.2e-8},
  {"f":10250,"lo":1.4e-9,"hi":3.3e-8},{"f":10300,"lo":9e-10,"hi":2.9e-8},{"f":10350,"lo":1.3e-9,"hi":3.0e-8},{"f":10400,"lo":8e-10,"hi":2.6e-8},
  {"f":10450,"lo":1.2e-9,"hi":2.8e-8},{"f":10500,"lo":7e-10,"hi":2.5e-8},{"f":10550,"lo":1.1e-9,"hi":2.6e-8},{"f":10600,"lo":8e-10,"hi":2.3e-8},
  {"f":10650,"lo":1.2e-9,"hi":2.5e-8},{"f":10700,"lo":7e-10,"hi":2.2e-8},{"f":10750,"lo":1.0e-9,"hi":2.4e-8},{"f":10800,"lo":6e-10,"hi":2.1e-8},
  {"f":10850,"lo":1.1e-9,"hi":2.2e-8},{"f":10900,"lo":8e-10,"hi":1.9e-8},{"f":10950,"lo":6e-10,"hi":2.1e-8},{"f":11000,"lo":1.0e-9,"hi":1.8e-8},
  {"f":11050,"lo":7e-10,"hi":2.0e-8},{"f":11100,"lo":1.1e-9,"hi":1.7e-8},{"f":11150,"lo":6e-10,"hi":1.9e-8},{"f":11200,"lo":9e-10,"hi":1.6e-8},
  {"f":11250,"lo":7e-10,"hi":1.8e-8},{"f":11300,"lo":1.1e-9,"hi":1.6e-8},{"f":11350,"lo":6e-10,"hi":1.7e-8},{"f":11400,"lo":9e-10,"hi":1.5e-8},
  {"f":11450,"lo":7e-10,"hi":1.7e-8},{"f":11510,"lo":1.0e-9,"hi":1.6e-8}
 ],
 "zr":[
  {"s":"G","f":7520,"lo":3e-10,"hi":1e-8},{"s":"G","f":7580,"lo":1.5e-10,"hi":1e-8},{"s":"G","f":7640,"lo":4e-10,"hi":3e-8},
  {"s":"G","f":7700,"lo":2e-10,"hi":1e-8},{"s":"G","f":7760,"lo":1.2e-10,"hi":1e-8},{"s":"G","f":7820,"lo":5e-10,"hi":2.8e-8},
  {"s":"G","f":7880,"lo":2.5e-10,"hi":1e-8},{"s":"G","f":7940,"lo":3.5e-10,"hi":3.5e-8},{"s":"G","f":8000,"lo":1.8e-10,"hi":1e-8},
  {"s":"G","f":8060,"lo":4e-10,"hi":1e-8},{"s":"G","f":8120,"lo":1.3e-10,"hi":4e-8},{"s":"G","f":8180,"lo":3e-10,"hi":1e-8},
  {"s":"G","f":8240,"lo":5e-10,"hi":3.2e-8},{"s":"G","f":8300,"lo":2e-10,"hi":1e-8},{"s":"G","f":8360,"lo":4e-10,"hi":4.2e-8},
  {"s":"G","f":8420,"lo":1.6e-10,"hi":1e-8},{"s":"G","f":8480,"lo":6e-10,"hi":3.8e-8},{"s":"G","f":8540,"lo":3e-10,"hi":1e-8},
  {"s":"G","f":8600,"lo":1.8e-10,"hi":5.5e-8},{"s":"G","f":8660,"lo":5e-10,"hi":1e-8},{"s":"G","f":8720,"lo":3.5e-10,"hi":6.5e-8},
  {"s":"G","f":8780,"lo":8e-10,"hi":1e-8},{"s":"G","f":8840,"lo":2.5e-10,"hi":8e-8},{"s":"G","f":8900,"lo":9e-10,"hi":1e-8},
  {"s":"G","f":8960,"lo":1.2e-9,"hi":1.2e-7},{"s":"G","f":9020,"lo":6e-10,"hi":1e-8},{"s":"G","f":9080,"lo":1.5e-9,"hi":1.5e-7},
  {"s":"G","f":9140,"lo":2.5e-9,"hi":1e-8},{"s":"G","f":9200,"lo":1.8e-9,"hi":2.2e-7},{"s":"G","f":9260,"lo":3.5e-9,"hi":1e-8},
  {"s":"G","f":9300,"lo":2.5e-10,"hi":1e-8},{"s":"G","f":9330,"lo":5e-9,"hi":4.8e-7},{"s":"G","f":9390,"lo":4e-9,"hi":1.5e-8},
  {"s":"G","f":9440,"lo":3e-9,"hi":5.2e-7},{"s":"G","f":9500,"lo":2.5e-9,"hi":1e-8},{"s":"G","f":9560,"lo":2e-9,"hi":2.5e-7},
  {"s":"G","f":9620,"lo":1.5e-9,"hi":1e-8},{"s":"G","f":9690,"lo":3e-10,"hi":1e-8},{"s":"G","f":9740,"lo":1e-9,"hi":1.6e-7},
  {"s":"G","f":9800,"lo":7e-10,"hi":1e-8},{"s":"G","f":9860,"lo":5e-10,"hi":1.1e-7},{"s":"G","f":9920,"lo":6e-10,"hi":1e-8},
  {"s":"G","f":9980,"lo":3e-10,"hi":1.5e-7},{"s":"G","f":10040,"lo":5e-10,"hi":2.4e-7},{"s":"G","f":10100,"lo":1e-10,"hi":1e-8},
  {"s":"G","f":10160,"lo":4e-10,"hi":1.3e-7},{"s":"G","f":10220,"lo":2.5e-10,"hi":1e-8},{"s":"G","f":10280,"lo":5e-10,"hi":7e-8},
  {"s":"G","f":10340,"lo":1.5e-10,"hi":1e-8},{"s":"G","f":10400,"lo":4e-10,"hi":6e-8},{"s":"G","f":10460,"lo":2e-10,"hi":1e-8},
  {"s":"G","f":10520,"lo":5e-10,"hi":5e-8},{"s":"G","f":10580,"lo":1.3e-10,"hi":1e-8},{"s":"G","f":10640,"lo":3e-10,"hi":4.5e-8},
  {"s":"G","f":10700,"lo":4e-10,"hi":1e-8},{"s":"G","f":10760,"lo":1.2e-10,"hi":4e-8},{"s":"G","f":10820,"lo":3.5e-10,"hi":1e-8},
  {"s":"G","f":10880,"lo":2e-10,"hi":3.5e-8},{"s":"G","f":10940,"lo":4.5e-10,"hi":1e-8},{"s":"G","f":11000,"lo":2.5e-10,"hi":3.6e-8},
  {"s":"G","f":11060,"lo":1.5e-10,"hi":1e-8},{"s":"G","f":11120,"lo":4e-10,"hi":3e-8},{"s":"G","f":11180,"lo":1.3e-10,"hi":1e-8},
  {"s":"G","f":11240,"lo":3e-10,"hi":3.2e-8},{"s":"G","f":11300,"lo":2e-10,"hi":1e-8},{"s":"G","f":11360,"lo":4e-10,"hi":2.8e-8},
  {"s":"G","f":11420,"lo":1.2e-10,"hi":1e-8},{"s":"G","f":11480,"lo":3e-10,"hi":2.6e-8},
  {"s":"R","f":7600,"lo":1.5e-10,"hi":1e-8},{"s":"R","f":7720,"lo":2e-10,"hi":1e-8},{"s":"R","f":7990,"lo":1.2e-10,"hi":1e-8},
  {"s":"R","f":8020,"lo":1e-8,"hi":1.3e-7},{"s":"R","f":8150,"lo":7e-11,"hi":1e-8},{"s":"R","f":8300,"lo":1.8e-10,"hi":1e-8},
  {"s":"R","f":8450,"lo":2.5e-10,"hi":1e-8},{"s":"R","f":8700,"lo":1e-8,"hi":7e-8},{"s":"R","f":8800,"lo":3e-10,"hi":1e-8},
  {"s":"R","f":9050,"lo":1e-8,"hi":1.4e-7},{"s":"R","f":9150,"lo":6e-10,"hi":1e-8},{"s":"R","f":9500,"lo":1e-8,"hi":2.8e-7},
  {"s":"R","f":9700,"lo":4e-10,"hi":1e-8},{"s":"R","f":9900,"lo":3e-10,"hi":1e-8},{"s":"R","f":10050,"lo":2e-10,"hi":1e-8},
  {"s":"R","f":10200,"lo":1e-8,"hi":6e-8},{"s":"R","f":10300,"lo":2e-10,"hi":1e-8},{"s":"R","f":10600,"lo":1.5e-10,"hi":1e-8},
  {"s":"R","f":10850,"lo":3e-10,"hi":1e-8},{"s":"R","f":10900,"lo":1e-8,"hi":3.5e-8},{"s":"R","f":11000,"lo":1.2e-10,"hi":1e-8},
  {"s":"R","f":11100,"lo":2e-10,"hi":1e-8},{"s":"R","f":11340,"lo":5e-11,"hi":1e-8},{"s":"R","f":11440,"lo":1.5e-10,"hi":1e-8}
 ]
},
"vconcat":[
 {
  "width":2000,"height":218,"view":{"stroke":null},
  "data":{"values":[{"a":"The pulse excitation signal matches the expected amplitude,","b":"frequency, and attenuation (deviation <","c":"10%","d":")"}]},
  "layer":[
   {"mark":{"type":"text","align":"left","baseline":"alphabetic","fontSize":62,"color":"black","dx":-889,"dy":-20},"encoding":{"text":{"field":"a"}}},
   {"mark":{"type":"text","align":"right","baseline":"alphabetic","fontSize":63,"color":"black","dx":103,"dy":57},"encoding":{"text":{"field":"b"}}},
   {"mark":{"type":"text","align":"left","baseline":"alphabetic","fontSize":63,"color":"#ff0000","dx":103,"dy":57},"encoding":{"text":{"field":"c"}}},
   {"mark":{"type":"text","align":"left","baseline":"alphabetic","fontSize":63,"color":"black","dx":219,"dy":57},"encoding":{"text":{"field":"d"}}}
  ]
 },
 {
  "hconcat":[
   {
    "width":996,"height":469,"title":"ADC readout","data":{"name":"adc"},
    "layer":[
     {"mark":{"type":"line","interpolate":"monotone","strokeWidth":4,"clip":true},
      "encoding":{
       "x":{"field":"t","type":"quantitative","scale":{"domain":[-0.9,0.9],"nice":false,"zero":false},"axis":{"values":[-0.5,0,0.5],"format":".1f","title":"t [ms]","labelPadding":9,"titlePadding":9}},
       "y":{"field":"p","type":"quantitative","scale":{"domain":[-3,3],"nice":false},"axis":{"values":[-2,0,2],"format":"d","title":"Readout [V]","titleFontSize":40,"labelPadding":16,"titlePadding":30}},
       "color":{"datum":"Prediction","type":"nominal","scale":{"domain":["Prediction","Observation"],"range":["#0000ff","#ff1a1a"]},
        "legend":{"title":null,"legendX":776,"legendY":15,"labelFontSize":26,"symbolSize":1444,"symbolStrokeWidth":4,"labelOffset":27,"rowPadding":5}}}},
     {"mark":{"type":"line","interpolate":"monotone","strokeWidth":4,"clip":true},
      "encoding":{
       "x":{"field":"t","type":"quantitative","scale":{"domain":[-0.9,0.9],"nice":false,"zero":false}},
       "y":{"field":"o","type":"quantitative","scale":{"domain":[-3,3],"nice":false}},
       "color":{"datum":"Observation","type":"nominal"}}}
    ]
   },
   {
    "width":998,"height":469,"title":"Magnetometer readout","data":{"name":"mag"},
    "layer":[
     {"transform":[{"filter":"datum.s == 'P'"}],
      "mark":{"type":"line","interpolate":"monotone","strokeWidth":4,"clip":true},
      "encoding":{
       "x":{"field":"t","type":"quantitative","scale":{"domain":[-1.9,0.914],"nice":false,"zero":false},"axis":{"values":[-1.5,-1,-0.5,0,0.5],"format":".1f","title":"t [ms]","labelPadding":9,"titlePadding":9}},
       "y":{"field":"v","type":"quantitative","scale":{"domain":[-3,3],"nice":false},"axis":{"values":[-2,-1,0,1,2],"labels":false,"title":null,"minExtent":0,"maxExtent":0}},
       "color":{"datum":"Prediction","type":"nominal","scale":{"domain":["Prediction","Observation"],"range":["#0000ff","#ff1a1a"]},
        "legend":{"title":null,"legendX":771,"legendY":15,"labelFontSize":26,"symbolSize":1444,"symbolStrokeWidth":4,"labelOffset":27,"rowPadding":5}}}},
     {"transform":[{"filter":"datum.s == 'O'"}],
      "mark":{"type":"line","interpolate":"monotone","strokeWidth":4,"clip":true},
      "encoding":{
       "x":{"field":"t","type":"quantitative","scale":{"domain":[-1.9,0.914],"nice":false,"zero":false}},
       "y":{"field":"v","type":"quantitative","scale":{"domain":[-3,3],"nice":false}},
       "color":{"datum":"Observation","type":"nominal"}}}
    ]
   }
  ],
  "spacing":-5,
  "resolve":{"scale":{"color":"independent"},"legend":{"color":"independent"}}
 },
 {
  "width":2000,"height":117,"view":{"stroke":null},
  "data":{"values":[{"a":"The noise amplitude matches with prediction (deviation","b":"<10%","c":")"}]},
  "layer":[
   {"mark":{"type":"text","align":"right","baseline":"alphabetic","fontSize":56,"color":"black","dx":627,"dy":23},"encoding":{"text":{"field":"a"}}},
   {"mark":{"type":"text","align":"left","baseline":"alphabetic","fontSize":56,"color":"#ff0000","dx":627,"dy":23},"encoding":{"text":{"field":"b"}}},
   {"mark":{"type":"text","align":"left","baseline":"alphabetic","fontSize":56,"color":"black","dx":783,"dy":23},"encoding":{"text":{"field":"c"}}}
  ]
 },
 {
  "hconcat":[
   {"width":154,"height":10,"view":{"stroke":null},"data":{"values":[{"a":1}]},"mark":{"type":"point","opacity":0}},
   {
    "width":910,"height":494,"title":{"text":"Unzoomed","offset":-13},
    "layer":[
     {"data":{"name":"unzb"},"transform":[{"filter":"datum.s == 'K'"}],
      "mark":{"type":"area","color":"black","opacity":0.92,"clip":true},
      "encoding":{
       "x":{"field":"f","type":"quantitative","scale":{"type":"log","domain":[0.049,53000],"nice":false},
        "axis":{"values":[0.05,0.06,0.07,0.08,0.09,0.1,0.2,0.3,0.4,0.5,0.6,0.7,0.8,0.9,1,2,3,4,5,6,7,8,9,10,20,30,40,50,60,70,80,90,100,200,300,400,500,600,700,800,900,1000,2000,3000,4000,5000,6000,7000,8000,9000,10000,20000,30000,40000,50000],
         "labelExpr":"datum.value == 0.1 ? '10⁻¹' : datum.value == 1 ? '10⁰' : datum.value == 10 ? '10¹' : datum.value == 100 ? '10²' : datum.value == 1000 ? '10³' : datum.value == 10000 ? '10⁴' : ''",
         "tickSize":{"condition":{"test":"indexof([0.1,1,10,100,1000,10000], datum.value) >= 0","value":-12},"value":-6},
         "title":"ω [Hz]","labelPadding":9,"titlePadding":-5}},
       "y":{"field":"hi","type":"quantitative","scale":{"type":"log","domain":[1e-11,1e-5],"nice":false},
        "axis":{"values":[1e-11,1e-9,1e-7,1e-5],"labelExpr":"datum.value == 1e-5 ? '10⁻⁵' : datum.value == 1e-7 ? '10⁻⁷' : datum.value == 1e-9 ? '10⁻⁹' : '10⁻¹¹'","title":"Readout [V]","labelPadding":15,"titlePadding":24}},
       "y2":{"field":"lo"}}},
     {"data":{"name":"ur"},"transform":[{"filter":"datum.s == 'K'"}],
      "mark":{"type":"rule","color":"black","strokeWidth":1.2,"clip":true},
      "encoding":{
       "x":{"field":"f","type":"quantitative","scale":{"type":"log","domain":[0.049,53000],"nice":false}},
       "y":{"field":"hi","type":"quantitative","scale":{"type":"log","domain":[1e-11,1e-5],"nice":false}},
       "y2":{"field":"lo"}}},
     {"data":{"name":"unz"},"transform":[{"filter":"datum.s == 'K'"}],
      "mark":{"type":"line","strokeWidth":1.3,"clip":true},
      "encoding":{
       "x":{"field":"f","type":"quantitative","scale":{"type":"log","domain":[0.049,53000],"nice":false}},
       "y":{"field":"v","type":"quantitative","scale":{"type":"log","domain":[1e-11,1e-5],"nice":false}},
       "color":{"field":"s","type":"nominal","scale":{"domain":["K","R"],"range":["black","#ff0000"]},
        "legend":{"title":null,"legendX":30,"legendY":10,"labelFontSize":23,"symbolSize":1089,"symbolStrokeWidth":1.5,"labelOffset":20,"rowPadding":3,
         "labelExpr":"datum.label == 'K' ? 'W/O Shielding' : 'W Shielding'"}}}},
     {"data":{"name":"unzb"},"transform":[{"filter":"datum.s == 'R'"}],
      "mark":{"type":"area","color":"#ff1010","opacity":0.95,"clip":true},
      "encoding":{
       "x":{"field":"f","type":"quantitative","scale":{"type":"log","domain":[0.049,53000],"nice":false}},
       "y":{"field":"hi","type":"quantitative","scale":{"type":"log","domain":[1e-11,1e-5],"nice":false}},
       "y2":{"field":"lo"}}},
     {"data":{"name":"ur"},"transform":[{"filter":"datum.s == 'R'"}],
      "mark":{"type":"rule","color":"#ff0000","strokeWidth":1.2,"opacity":0.9,"clip":true},
      "encoding":{
       "x":{"field":"f","type":"quantitative","scale":{"type":"log","domain":[0.049,53000],"nice":false}},
       "y":{"field":"hi","type":"quantitative","scale":{"type":"log","domain":[1e-11,1e-5],"nice":false}},
       "y2":{"field":"lo"}}},
     {"data":{"name":"unz"},"transform":[{"filter":"datum.s == 'R'"}],
      "mark":{"type":"line","strokeWidth":1.3,"opacity":0.9,"clip":true},
      "encoding":{
       "x":{"field":"f","type":"quantitative","scale":{"type":"log","domain":[0.049,53000],"nice":false}},
       "y":{"field":"v","type":"quantitative","scale":{"type":"log","domain":[1e-11,1e-5],"nice":false}},
       "color":{"field":"s","type":"nominal"}}},
     {"data":{"name":"unz"},"transform":[{"filter":"datum.s == 'B'"}],
      "mark":{"type":"line","strokeWidth":3.5,"interpolate":"monotone","clip":true},
      "encoding":{
       "x":{"field":"f","type":"quantitative","scale":{"type":"log","domain":[0.049,53000],"nice":false}},
       "y":{"field":"v","type":"quantitative","scale":{"type":"log","domain":[1e-11,1e-5],"nice":false}},
       "stroke":{"datum":"Prediction","type":"nominal","scale":{"domain":["Prediction"],"range":["#0000ff"]},
        "legend":{"title":null,"legendX":30,"legendY":77,"labelFontSize":23,"symbolSize":1089,"symbolStrokeWidth":4,"labelOffset":20}}}}
    ]
   },
   {
    "width":489,"height":494,"title":"Zoomed",
    "layer":[
     {"data":{"name":"zr"},"transform":[{"filter":"datum.s == 'G'"}],
      "mark":{"type":"rule","strokeWidth":1.3,"opacity":0.85,"clip":true},
      "encoding":{
       "x":{"field":"f","type":"quantitative","scale":{"domain":[7500,11500],"nice":false,"zero":false},
        "axis":{"values":[8000,9000,10000,11000],"format":"d","title":"ω [Hz]","labelPadding":9,"titlePadding":0}},
       "y":{"field":"hi","type":"quantitative","scale":{"type":"log","domain":[1e-11,1e-5],"nice":false},
        "axis":{"values":[1e-11,2e-11,3e-11,4e-11,5e-11,6e-11,7e-11,8e-11,9e-11,1e-10,2e-10,3e-10,4e-10,5e-10,6e-10,7e-10,8e-10,9e-10,1e-9,2e-9,3e-9,4e-9,5e-9,6e-9,7e-9,8e-9,9e-9,1e-8,2e-8,3e-8,4e-8,5e-8,6e-8,7e-8,8e-8,9e-8,1e-7,2e-7,3e-7,4e-7,5e-7,6e-7,7e-7,8e-7,9e-7,1e-6,2e-6,3e-6,4e-6,5e-6,6e-6,7e-6,8e-6,9e-6,1e-5],
         "labels":false,"title":null,"minExtent":0,"maxExtent":0,
         "tickSize":{"condition":{"test":"indexof([1e-11,1e-10,1e-9,1e-8,1e-7,1e-6,1e-5], datum.value) >= 0","value":-12},"value":-6}}},
       "y2":{"field":"lo"},
       "color":{"field":"s","type":"nominal","scale":{"domain":["G","R"],"range":["#2e8b2e","#ff2020"]},
        "legend":{"title":null,"legendX":25,"legendY":10,"labelFontSize":23,"symbolSize":1089,"symbolStrokeWidth":1.5,"labelOffset":20,"rowPadding":3,
         "labelExpr":"datum.label == 'G' ? 'W/O Shielding (horizontally oriented)' : 'W Shielding (Vertically oriented)'"}}}},
     {"data":{"name":"zmb"},
      "mark":{"type":"area","color":"#ff1a1a","opacity":0.95,"clip":true},
      "encoding":{
       "x":{"field":"f","type":"quantitative","scale":{"domain":[7500,11500],"nice":false,"zero":false}},
       "y":{"field":"hi","type":"quantitative","scale":{"type":"log","domain":[1e-11,1e-5],"nice":false}},
       "y2":{"field":"lo"}}},
     {"data":{"name":"zr"},"transform":[{"filter":"datum.s == 'R'"}],
      "mark":{"type":"rule","strokeWidth":1.3,"opacity":0.75,"clip":true},
      "encoding":{
       "x":{"field":"f","type":"quantitative","scale":{"domain":[7500,11500],"nice":false,"zero":false}},
       "y":{"field":"hi","type":"quantitative","scale":{"type":"log","domain":[1e-11,1e-5],"nice":false}},
       "y2":{"field":"lo"},
       "color":{"field":"s","type":"nominal"}}},
     {"data":{"name":"zm"},"transform":[{"filter":"datum.s == 'B'"}],
      "mark":{"type":"line","strokeWidth":3.5,"interpolate":"monotone","clip":true},
      "encoding":{
       "x":{"field":"f","type":"quantitative","scale":{"domain":[7500,11500],"nice":false,"zero":false}},
       "y":{"field":"v","type":"quantitative","scale":{"type":"log","domain":[1e-11,1e-5],"nice":false}},
       "stroke":{"datum":"Prediction","type":"nominal","scale":{"domain":["Prediction"],"range":["#0000ff"]},
        "legend":{"title":null,"legendX":25,"legendY":77,"labelFontSize":23,"symbolSize":1089,"symbolStrokeWidth":4,"labelOffset":20}}}}
    ]
   }
  ],
  "spacing":-5,
  "resolve":{"scale":{"color":"independent","stroke":"independent","y":"independent","x":"independent"},"legend":{"color":"independent","stroke":"independent"}}
 }
]
}
